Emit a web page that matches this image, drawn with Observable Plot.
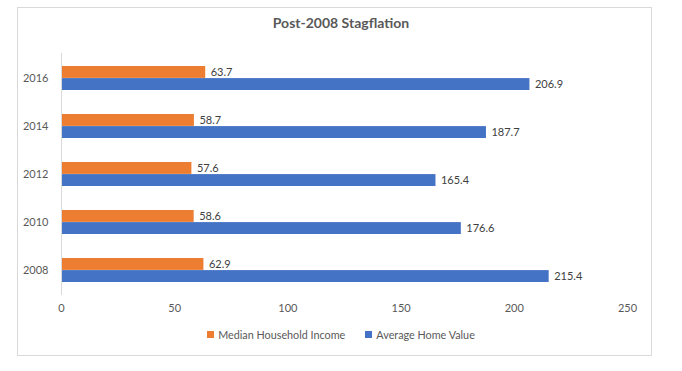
<!DOCTYPE html>
<html>
<head>
<meta charset="utf-8">
<script src="https://cdn.jsdelivr.net/npm/d3@7"></script>
<script src="https://cdn.jsdelivr.net/npm/@observablehq/plot@0.6"></script>
<style>
  html, body { margin: 0; padding: 0; background: #fff; width: 682px; height: 371px; overflow: hidden; }
  #box { position: absolute; left: 17px; top: 7px; width: 633px; height: 347px; border: 1px solid #d9d9d9; box-sizing: content-box; z-index: 5; pointer-events: none; }
  #title { position: absolute; left: 0; top: 14px; width: 682px; text-align: center; font: bold 14px Lato, sans-serif; color: #595959; }
  #chart { position: absolute; left: 0; top: 40px; }
  #legend { position: absolute; left: 0; top: 328px; width: 682px; display: flex; justify-content: center; gap: 20px; font: 10.8px Lato, sans-serif; color: #595959; }
  .item { display: flex; align-items: center; gap: 4px; }
  .sw { width: 7px; height: 7px; display: inline-block; }
</style>
</head>
<body>
<div id="box"></div>
<div id="title">Post-2008 Stagflation</div>
<div id="chart"></div>
<div id="legend"></div>
<script>
const years = ["2016", "2014", "2012", "2010", "2008"];
const seriesNames = ["Median Household Income", "Average Home Value"];
const income = [63.7, 58.7, 57.6, 58.6, 62.9];
const homeValue = [206.9, 187.7, 165.4, 176.6, 215.4];
const xTicks = [0, 50, 100, 150, 200, 250];
const colors = ["#ED7D31", "#4472C4"];

const incomeData = years.map((y, i) => ({year: y, value: income[i]}));
const homeData = years.map((y, i) => ({year: y, value: homeValue[i]}));

const width = 682, height = 280;
const marginTop = 13, marginBottom = 25, marginLeft = 61, marginRight = 55;
const padIn = 0.5, padOut = 0.25;
const innerH = height - marginTop - marginBottom;
const step = innerH / (years.length - padIn + 2 * padOut);
const half = step * (1 - padIn) / 2;

const textStyle = {fill: "#404040", fontSize: 11, textAnchor: "start", dx: 5};

const chart = Plot.plot({
  width, height, marginTop, marginBottom, marginLeft, marginRight,
  style: {fontFamily: "Lato, sans-serif", fontSize: "11px", color: "#595959", background: "transparent"},
  x: {domain: [0, 250], ticks: xTicks, label: null, tickSize: 0, tickPadding: 9},
  y: {domain: years, paddingInner: padIn, paddingOuter: padOut, label: null, tickSize: 0, tickPadding: 13},
  marks: [
    Plot.barX(incomeData, {x: "value", y: "year", fill: colors[0], insetBottom: half, insetTop: 0}),
    Plot.barX(homeData, {x: "value", y: "year", fill: colors[1], insetTop: half, insetBottom: 0}),
    Plot.ruleX([0], {stroke: "#d9d9d9", strokeWidth: 1}),
    Plot.text(incomeData, {x: "value", y: "year", text: d => d.value.toFixed(1), dy: -half / 2, ...textStyle}),
    Plot.text(homeData, {x: "value", y: "year", text: d => d.value.toFixed(1), dy: half / 2, ...textStyle}),
    Plot.axisX({ticks: xTicks, tickSize: 0, tickPadding: 9, fill: "#595959", label: null}),
    Plot.axisY({tickSize: 0, tickPadding: 13, fill: "#595959", label: null})
  ]
});
document.getElementById("chart").appendChild(chart);

const legend = document.getElementById("legend");
seriesNames.forEach((name, i) => {
  const item = document.createElement("span");
  item.className = "item";
  const sw = document.createElement("span");
  sw.className = "sw";
  sw.style.background = colors[i];
  item.appendChild(sw);
  item.appendChild(document.createTextNode(name));
  legend.appendChild(item);
});
</script>
</body>
</html>
